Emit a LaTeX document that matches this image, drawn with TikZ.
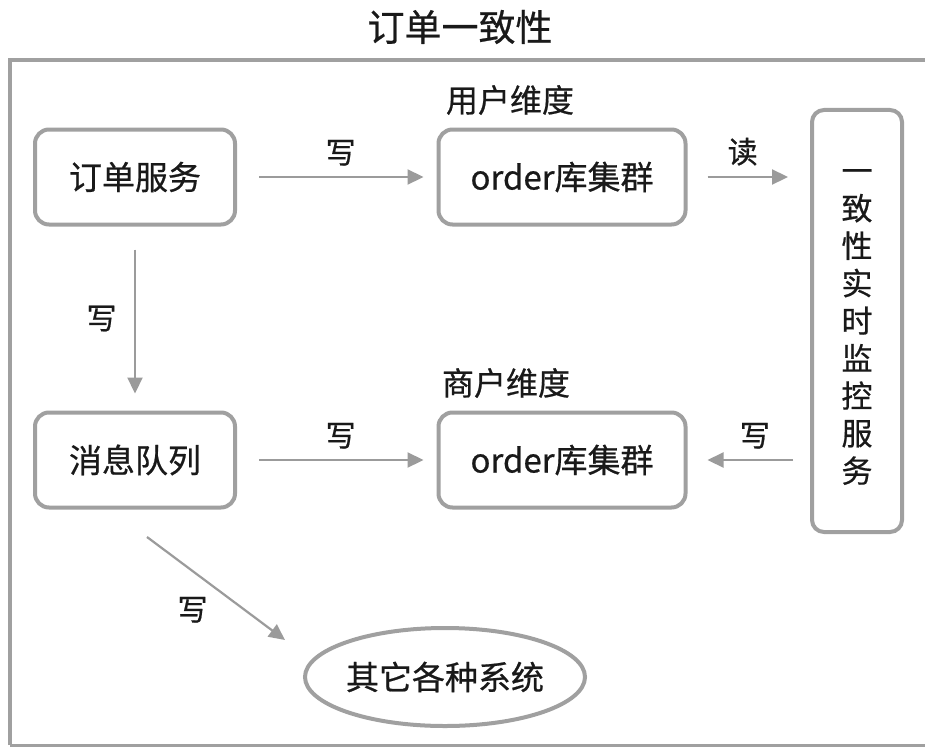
\documentclass[tikz,border=0pt]{standalone}
\usepackage{fontspec}
\setmainfont{Noto Sans CJK SC}[FakeBold=0.6]
\usetikzlibrary{arrows.meta,shapes.geometric}
\definecolor{boxgray}{RGB}{160,160,160}
\definecolor{arrgray}{RGB}{155,155,155}
\begin{document}
\begin{tikzpicture}[x=1pt,y=-1pt,
  box/.style={draw=boxgray,line width=4pt,rounded corners=14pt,fill=white,inner sep=0pt,font=\fontsize{33}{38}\selectfont,text=black!90},
  arr/.style={draw=arrgray,line width=2.2pt,-{Triangle[length=16pt,width=15pt]}},
  lbl/.style={font=\fontsize{30}{34}\selectfont,text=black!90},
  ]
\useasboundingbox (0,0) rectangle (925,749);
\fill[white] (0,0) rectangle (925,749);
\draw[boxgray,line width=3.5pt] (10,745) -- (10,60) -- (930,60);
\draw[boxgray,line width=3pt] (10,745) -- (930,745);
\node[font=\fontsize{37}{42}\selectfont,text=black!90] (title) at (460,27) {订单一致性};
\node[box,minimum width=200pt,minimum height=95pt] (svc) at (135,177) {订单服务};
\node[box,minimum width=247pt,minimum height=95pt] (db1) at (562,177) {order库集群};
\node[box,minimum width=200pt,minimum height=95pt] (mq) at (135,460) {消息队列};
\node[box,minimum width=247pt,minimum height=95pt] (db2) at (562,460) {order库集群};
\node[box,minimum width=90pt,minimum height=422pt,rounded corners=12pt] (mon) at (857,321) {};
\node[font=\fontsize{31}{37.5}\selectfont,align=center,text=black!90,inner sep=0pt] (montext) at (857,327) {一\\致\\性\\实\\时\\监\\控\\服\\务};
\node[ellipse,draw=boxgray,line width=4pt,minimum width=268pt,minimum height=98pt,inner sep=0pt,font=\fontsize{33}{38}\selectfont,text=black!90] (oth) at (445,677) {其它各种系统};
\node[lbl,font=\fontsize{32}{36}\selectfont] (d1) at (510,100) {用户维度};
\node[lbl,font=\fontsize{32}{36}\selectfont] (d2) at (506,383) {商户维度};
\draw[arr,shorten <=22pt,shorten >=13pt] (svc.east) -- (db1.west) node[lbl,above=7pt,pos=0.52] (w1) {写};
\draw[arr,shorten <=20pt,shorten >=22pt] (db1.east) -- (mon.west |- db1.east) node[lbl,pos=0.45,above=7pt] (r1) {读};
\draw[arr,shorten <=23pt,shorten >=17pt] (svc.south) -- (mq.north) node[lbl,midway,left=14pt] (w2) {写};
\draw[arr,shorten <=22pt,shorten >=13pt] (mq.east) -- (db2.west) node[lbl,above=7pt,pos=0.52] (w3) {写};
\draw[arr,shorten <=17pt,shorten >=20pt] (mon.west |- db2.east) -- (db2.east) node[lbl,pos=0.45,above=7pt] (w4) {写};
\coordinate (mqs) at (147,537);
\coordinate (oe) at (285,640);
\draw[arr] (mqs) -- (oe) node[lbl,midway,below left=4pt] (w5) {写};
\end{tikzpicture}
\end{document}
